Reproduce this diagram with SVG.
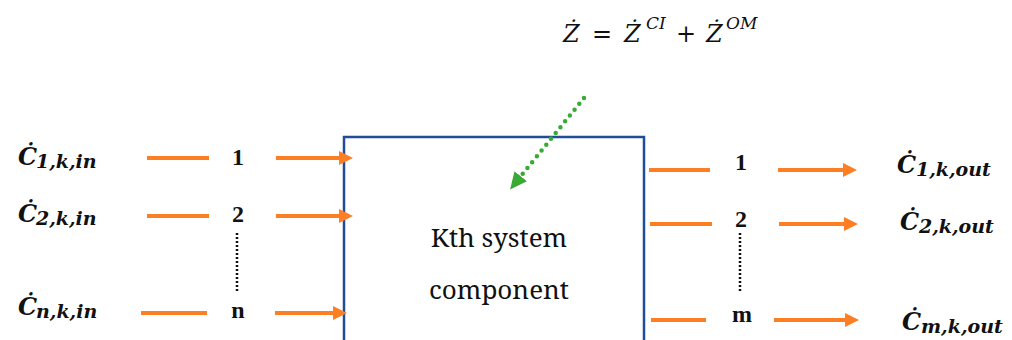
<svg xmlns="http://www.w3.org/2000/svg" width="1012" height="340" viewBox="0 0 1012 340">
<style>
.flow{stroke:#fd7e23;stroke-width:4;fill:none}
.dots{stroke:#111;stroke-width:2.5;stroke-dasharray:2 2;fill:none}
</style>
<defs>
<marker id="oa" markerUnits="userSpaceOnUse" markerWidth="16" markerHeight="16" refX="2" refY="7" orient="auto">
<path d="M0,0 L14,7 L0,14 z" fill="#fd7e23"/>
</marker>
<marker id="ga" markerUnits="userSpaceOnUse" markerWidth="20" markerHeight="20" refX="2" refY="8" orient="auto">
<path d="M0,0 L17,8 L0,16 z" fill="#3aaa35"/>
</marker>
</defs>
<rect width="1012" height="340" fill="#fff"/>

<g id="equation" font-family="'DejaVu Serif', serif" font-style="italic" font-size="24" fill="#111">
<text x="563" y="42">Ż</text>
<text x="592" y="42" font-style="normal">=</text>
<text x="624" y="42">Ż</text>
<text x="646" y="29" font-size="17">CI</text>
<text x="676" y="42" font-style="normal">+</text>
<text x="706" y="42">Ż</text>
<text x="726" y="29" font-size="17">OM</text>
</g>

<g id="component">
<rect x="344" y="137" width="300" height="230" fill="none" stroke="#1f4e96" stroke-width="2.5"/>
<text x="499" y="247" font-family="'Noto Serif', serif" font-size="26" text-anchor="middle" fill="#111">Kth system</text>
<text x="499" y="299" font-family="'Noto Serif', serif" font-size="26" text-anchor="middle" fill="#111">component</text>
</g>

<g id="inputs" fill="#111">
<g font-family="'DejaVu Serif', serif" font-style="italic" font-weight="bold">
<text x="18" y="165" font-size="24">Ċ</text><text x="36" y="168" font-size="19">1,k,in</text>
<text x="18" y="222" font-size="24">Ċ</text><text x="36" y="225" font-size="19">2,k,in</text>
<text x="18" y="315" font-size="24">Ċ</text><text x="36" y="318" font-size="19">n,k,in</text>
</g>
<g font-family="'Liberation Serif', serif" font-weight="bold" font-size="24" text-anchor="middle">
<text x="238" y="165">1</text>
<text x="238" y="222">2</text>
<text x="238" y="318">n</text>
</g>
</g>

<g id="outputs" fill="#111">
<g font-family="'DejaVu Serif', serif" font-style="italic" font-weight="bold">
<text x="897" y="173" font-size="24">Ċ</text><text x="916" y="176" font-size="19">1,k,out</text>
<text x="900" y="230" font-size="24">Ċ</text><text x="919" y="233" font-size="19">2,k,out</text>
<text x="902" y="330" font-size="24">Ċ</text><text x="921" y="333" font-size="19">m,k,out</text>
</g>
<g font-family="'Liberation Serif', serif" font-weight="bold" font-size="24" text-anchor="middle">
<text x="741" y="170">1</text>
<text x="741" y="227">2</text>
<text x="742" y="322">m</text>
</g>
</g>

<g id="connectors">
<line x1="147" y1="158" x2="209" y2="158" class="flow"/>
<line x1="276" y1="158" x2="341" y2="158" class="flow" marker-end="url(#oa)"/>
<line x1="147" y1="216" x2="209" y2="216" class="flow"/>
<line x1="276" y1="216" x2="341" y2="216" class="flow" marker-end="url(#oa)"/>
<line x1="141" y1="313" x2="207" y2="313" class="flow"/>
<line x1="275" y1="313" x2="335" y2="313" class="flow" marker-end="url(#oa)"/>
<line x1="237" y1="233" x2="237" y2="293" class="dots"/>

<line x1="649" y1="170" x2="710" y2="170" class="flow"/>
<line x1="778" y1="170" x2="845" y2="170" class="flow" marker-end="url(#oa)"/>
<line x1="650" y1="224" x2="712" y2="224" class="flow"/>
<line x1="779" y1="224" x2="846" y2="224" class="flow" marker-end="url(#oa)"/>
<line x1="651" y1="320" x2="706" y2="320" class="flow"/>
<line x1="774" y1="320" x2="847" y2="320" class="flow" marker-end="url(#oa)"/>
<line x1="740" y1="233" x2="740" y2="293" class="dots"/>

<line x1="584" y1="98" x2="519.5" y2="177.8" stroke="#3aaa35" stroke-width="4.5" stroke-linecap="round" stroke-dasharray="0 7.5" marker-end="url(#ga)"/>
</g>
</svg>
